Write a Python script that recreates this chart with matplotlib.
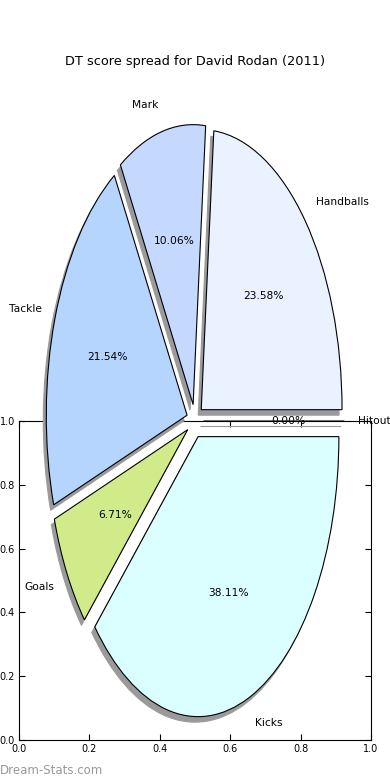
from matplotlib import pyplot as plt
from matplotlib.patches import Wedge
from matplotlib.transforms import ScaledTranslation

# DT points per stat (kicks 3, handballs 2, marks 3, tackles 4, goals 6, hitouts 1)
labels = ['Handballs', 'Mark', 'Tackle', 'Goals', 'Kicks', 'Hitout']
points = [232, 99, 212, 66, 375, 0]
colors = ['#eaf2ff', '#c5d9ff', '#b5d5ff', '#d1eb8b', '#dbffff', '#ffffff']
explode = [0.06] * len(points)
ticks = [0.0, 0.2, 0.4, 0.6, 0.8, 1.0]

fig = plt.figure(figsize=(3.9, 7.8), dpi=100)

# leftover empty axes sitting under the pie
ax2 = fig.add_axes([19/390, 40/780, 352/390, 319/780], zorder=1)
ax2.set_xlim(0, 1)
ax2.set_ylim(0, 1)
ax2.set_xticks(ticks)
ax2.set_yticks(ticks)
ax2.tick_params(direction='in', top=True, right=True, length=4, labelsize=7, pad=3)
ax2.patch.set_alpha(0)

ax1 = fig.add_axes([19/390, 9/780, 352/390, 700/780], zorder=2)
wedges, texts, autotexts = ax1.pie(points, labels=labels, colors=colors, explode=explode,
                                   autopct='%1.2f%%', startangle=0, counterclock=True,
                                   wedgeprops={'edgecolor': 'black', 'linewidth': 0.8},
                                   textprops={'fontsize': 7.7})
ax1.set_aspect('auto')
ax1.set_xlim(-1.25, 1.25)
ax1.set_ylim(-1.25, 1.25)

# drop shadows, shifted a few pixels down-left
shift = ax1.transData + ScaledTranslation(-0.03, -0.055, fig.dpi_scale_trans)
for w in wedges:
    sh = Wedge(w.center, w.r, w.theta1, w.theta2, transform=shift,
               facecolor='#9a9a9a', edgecolor='#9a9a9a', linewidth=0.8, zorder=0.5)
    ax1.add_patch(sh)

# the empty slice's texts end up under the frame of the lower axes
for t in (texts[-1], autotexts[-1]):
    x, y = t.get_position()
    ax2.text(x, y, t.get_text(), transform=ax1.transData, ha=t.get_ha(), va=t.get_va(),
             fontsize=7.7, zorder=2)
    t.remove()

fig.text(0.5, 1 - 61/780, 'DT score spread for David Rodan (2011)', ha='center', va='center',
         fontsize=9.3)
fig.text(0.0, 10/780, 'Dream-Stats.com', ha='left', va='center', fontsize=8.5, color='#999999')

fig.savefig('out.png', dpi=100)
